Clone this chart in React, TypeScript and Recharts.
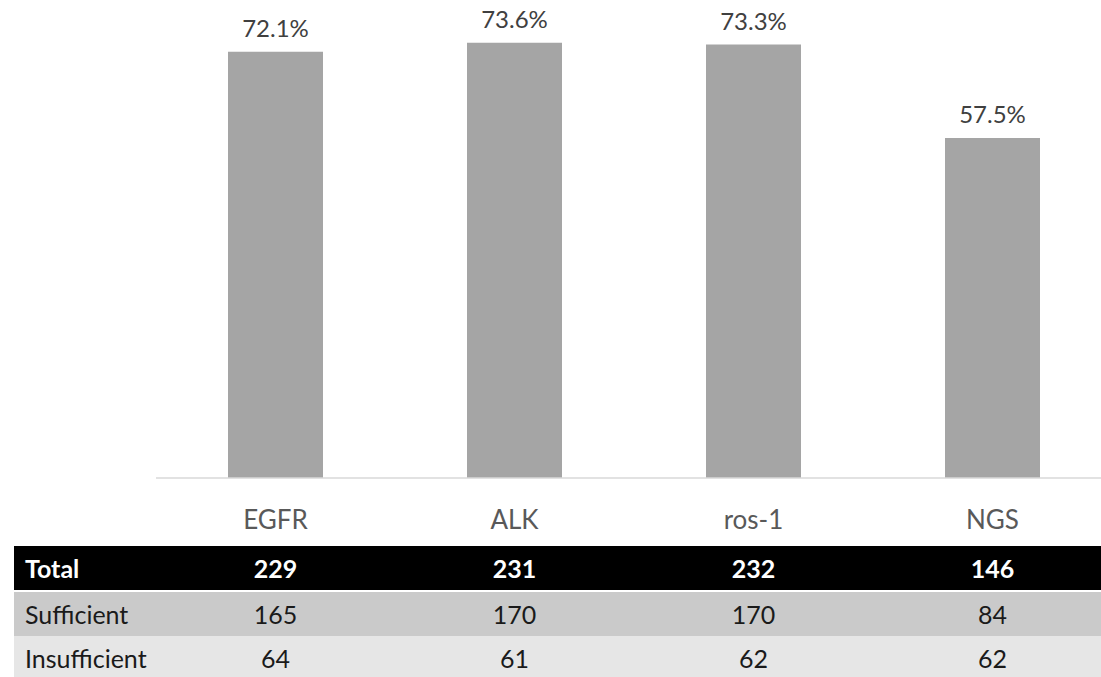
import React from "react";
import { BarChart, Bar, XAxis, YAxis, LabelList } from "recharts";

const categories = ["EGFR", "ALK", "ros-1", "NGS"];
const sufficiencyPct = [72.1, 73.6, 73.3, 57.5];
const totalRow = [229, 231, 232, 146];
const sufficientRow = [165, 170, 170, 84];
const insufficientRow = [64, 61, 62, 62];
const rowLabels = ["Total", "Sufficient", "Insufficient"];

const data = categories.map((c, i) => ({ name: c, value: sufficiencyPct[i] }));

const FONT = "Lato, 'Open Sans', sans-serif";
const CHART_W = 1120;
const CHART_H = 546;
const M_LEFT = 156;
const M_RIGHT = 8;
const BAND = (CHART_W - M_LEFT - M_RIGHT) / categories.length;

const Tick = (props: any) => {
  const { x, y, payload } = props;
  return (
    <text
      x={x}
      y={y + 43}
      textAnchor="middle"
      fontFamily={FONT}
      fontSize={26}
      fill="#595959"
    >
      {payload.value}
    </text>
  );
};

const rows = [
  { label: rowLabels[0], values: totalRow, bg: "#000000", color: "#ffffff", bold: true, top: 546, h: 44 },
  { label: rowLabels[1], values: sufficientRow, bg: "#cacaca", color: "#1a1a1a", bold: false, top: 592, h: 44 },
  { label: rowLabels[2], values: insufficientRow, bg: "#e6e6e6", color: "#1a1a1a", bold: false, top: 636, h: 45 },
];

export default function App() {
  return (
    <div
      style={{
        position: "absolute",
        left: 0,
        top: 0,
        width: 1101,
        height: 677,
        overflow: "hidden",
        background: "#ffffff",
        fontFamily: FONT,
      }}
    >
      <BarChart
        width={CHART_W}
        height={CHART_H}
        data={data}
        margin={{ top: 5, right: M_RIGHT, left: M_LEFT, bottom: 0 }}
      >
        <YAxis hide domain={[0, 80]} />
        <XAxis
          dataKey="name"
          height={68}
          axisLine={{ stroke: "#d9d9d9", strokeWidth: 1.5 }}
          tickLine={false}
          tick={<Tick />}
          interval={0}
        />
        <Bar dataKey="value" fill="#a5a5a5" barSize={95} isAnimationActive={false}>
          <LabelList
            dataKey="value"
            position="top"
            offset={15}
            formatter={(v: any) => `${v}%`}
            style={{ fontFamily: FONT, fontSize: 24, fill: "#404040" }}
          />
        </Bar>
      </BarChart>
      {rows.map((r, ri) => (
        <div
          key={ri}
          style={{
            position: "absolute",
            left: 14,
            top: r.top,
            width: 1101 - 14,
            height: r.h,
            background: r.bg,
            color: r.color,
            fontWeight: r.bold ? 700 : 400,
            fontSize: 25,
            lineHeight: `${r.h}px`,
          }}
        >
          <span style={{ position: "absolute", left: 11, top: 0 }}>{r.label}</span>
          {r.values.map((v, i) => (
            <span
              key={i}
              style={{
                position: "absolute",
                left: M_LEFT + (i + 0.5) * BAND - 14,
                top: 0,
                transform: "translateX(-50%)",
              }}
            >
              {v}
            </span>
          ))}
        </div>
      ))}
    </div>
  );
}
